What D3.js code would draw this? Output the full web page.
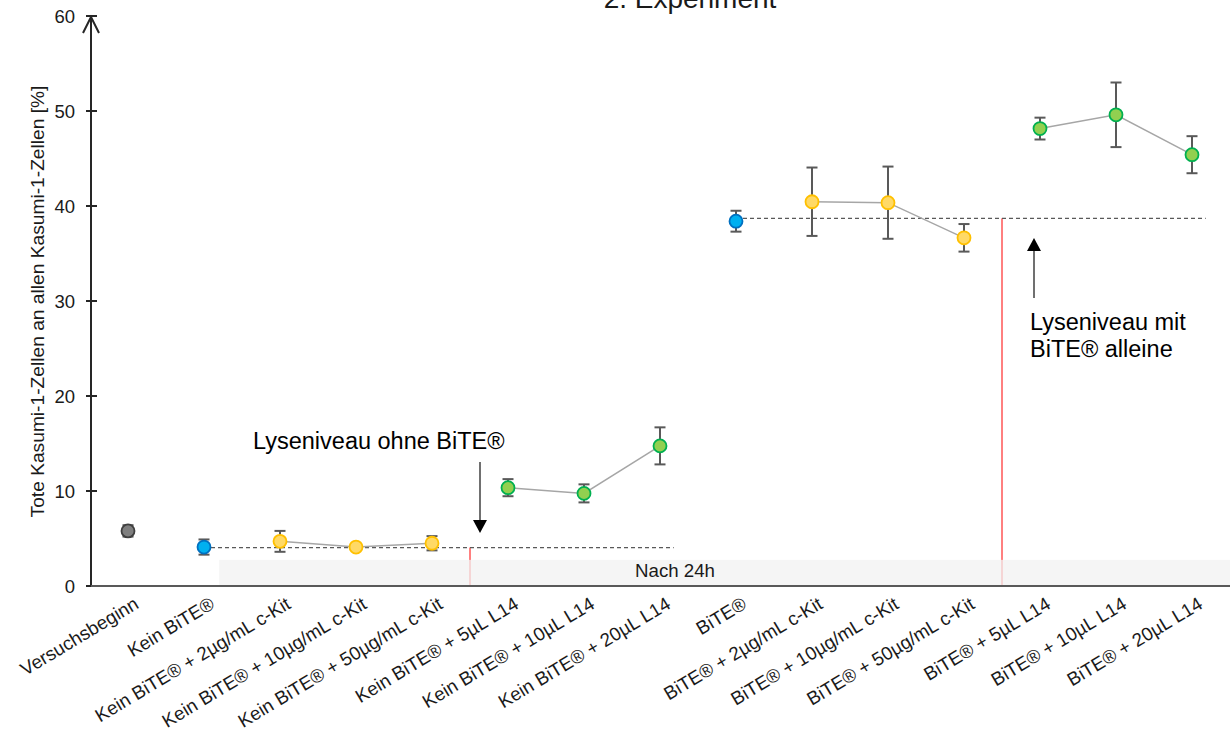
<!DOCTYPE html>
<html>
<head>
<meta charset="utf-8">
<script src="https://cdn.jsdelivr.net/npm/d3@7"></script>
<style>
  body { margin: 0; background: #fff; }
  svg { display: block; font-family: "Liberation Sans", Arial, sans-serif; }
</style>
</head>
<body>
<svg id="chart" width="1232" height="737"></svg>
<script>
// categories in plotting order
const categories = [
  "Versuchsbeginn", "Kein BiTE®",
  "Kein BiTE® + 2µg/mL c-Kit", "Kein BiTE® + 10µg/mL c-Kit", "Kein BiTE® + 50µg/mL c-Kit",
  "Kein BiTE® + 5µL L14", "Kein BiTE® + 10µL L14", "Kein BiTE® + 20µL L14",
  "BiTE®",
  "BiTE® + 2µg/mL c-Kit", "BiTE® + 10µg/mL c-Kit", "BiTE® + 50µg/mL c-Kit",
  "BiTE® + 5µL L14", "BiTE® + 10µL L14", "BiTE® + 20µL L14"
];
// mean dead Kasumi-1 cells [%] and error (+/-)
const values = [5.8, 4.1, 4.7, 4.1, 4.5, 10.35, 9.75, 14.75, 38.4, 40.45, 40.35, 36.65, 48.15, 49.6, 45.4];
const errors = [0.6, 0.8, 1.1, 0.3, 0.75, 0.9, 0.95, 1.95, 1.1, 3.6, 3.8, 1.45, 1.15, 3.4, 1.95];
const kinds = ["start", "control", "ckit", "ckit", "ckit", "l14", "l14", "l14",
               "control", "ckit", "ckit", "ckit", "l14", "l14", "l14"];
// points joined by thin grey lines (indices into categories)
const lineGroups = [[2, 3, 4], [5, 6, 7], [9, 10, 11], [12, 13, 14]];
// lysis reference levels: dashed line starting at category index
const levelFrom = [1, 8];
const levelValue = [4.05, 38.7];
const yTicks = [0, 10, 20, 30, 40, 50, 60];

const COLORS = {
  start:   { fill: "#7f7f7f", stroke: "#3f3f3f" },
  control: { fill: "#00b0f0", stroke: "#0070c0" },
  ckit:    { fill: "#ffd966", stroke: "#ffc000" },
  l14:     { fill: "#92d050", stroke: "#00b050" }
};

const svg = d3.select("#chart");
const x = d3.scalePoint().domain(categories).range([90, 1230]).padding(0.5);
const step = x.step();
const y = d3.scaleLinear().domain([0, 60]).range([586, 16]);
const X = i => x(categories[i]);

// red separators (drawn under the band)
const seps = [[4, 5, 0], [11, 12, 1]];
seps.forEach(([a, b, lv]) => {
  svg.append("line")
    .attr("x1", (X(a) + X(b)) / 2).attr("x2", (X(a) + X(b)) / 2)
    .attr("y1", y(levelValue[lv])).attr("y2", y(0))
    .attr("stroke", "#ff0000").attr("stroke-width", 1);
});

// "Nach 24h" band
svg.append("rect")
  .attr("x", X(1) + step * 0.2).attr("y", y(2.75))
  .attr("width", 1230 - (X(1) + step * 0.2)).attr("height", y(0) - y(2.75))
  .attr("fill", "#f2f2f2").attr("opacity", 0.75);
svg.append("text")
  .attr("x", 675).attr("y", 577)
  .attr("text-anchor", "middle")
  .style("font-size", "18.7px").attr("fill", "#1a1a1a")
  .text("Nach 24h");

// dashed reference levels
levelFrom.forEach((f, i) => {
  svg.append("line")
    .attr("x1", X(f)).attr("x2", X(f) + step * 6.18)
    .attr("y1", y(levelValue[i])).attr("y2", y(levelValue[i]))
    .attr("stroke", "#595959").attr("stroke-width", 1.3)
    .attr("stroke-dasharray", "4,3");
});

// y axis
const yAxis = svg.append("g").attr("transform", "translate(91,0)");
yAxis.append("line").attr("y1", y(0)).attr("y2", y(60))
  .attr("stroke", "#262626").attr("stroke-width", 2);
yAxis.append("path").attr("d", "M-8,33L0,17L8,33")
  .attr("fill", "none").attr("stroke", "#262626").attr("stroke-width", 2);
yTicks.forEach(t => {
  yAxis.append("line").attr("x1", -5).attr("x2", 6)
    .attr("y1", y(t)).attr("y2", y(t))
    .attr("stroke", "#262626").attr("stroke-width", 2);
  yAxis.append("text").attr("x", -16).attr("y", y(t)).attr("dy", "0.36em")
    .attr("text-anchor", "end").style("font-size", "18.5px").attr("fill", "#1a1a1a")
    .text(t);
});
svg.append("text")
  .attr("transform", `translate(44,${(88 + 515) / 2}) rotate(-90)`)
  .attr("text-anchor", "middle")
  .style("font-size", "19.2px").attr("fill", "#1a1a1a")
  .text("Tote Kasumi-1-Zellen an allen Kasumi-1-Zellen [%]");

// x axis
svg.append("line").attr("x1", 91).attr("x2", 1230)
  .attr("y1", y(0)).attr("y2", y(0))
  .attr("stroke", "#595959").attr("stroke-width", 2);
categories.forEach((c, i) => {
  svg.append("text")
    .attr("transform", `translate(${X(i) + 5},596) rotate(-31)`)
    .attr("dy", "0.71em")
    .attr("text-anchor", "end")
    .style("font-size", "18.8px").attr("fill", "#1a1a1a")
    .text(c);
});

// title (cut off at the top edge, as in the source figure)
svg.append("text").attr("x", 690).attr("y", 8)
  .attr("text-anchor", "middle").style("font-size", "28px").attr("fill", "#1a1a1a")
  .text("2. Experiment");

// connecting lines
const line = d3.line().x(i => X(i)).y(i => y(values[i]));
lineGroups.forEach(g => {
  svg.append("path").attr("d", line(g))
    .attr("fill", "none").attr("stroke", "#a6a6a6").attr("stroke-width", 1.5);
});

// error bars
const eb = svg.append("g").attr("stroke", "#595959").attr("stroke-width", 2);
values.forEach((v, i) => {
  const lo = y(v - errors[i]), hi = y(v + errors[i]);
  eb.append("line").attr("x1", X(i)).attr("x2", X(i)).attr("y1", lo).attr("y2", hi);
  eb.append("line").attr("x1", X(i) - 5.5).attr("x2", X(i) + 5.5).attr("y1", lo).attr("y2", lo);
  eb.append("line").attr("x1", X(i) - 5.5).attr("x2", X(i) + 5.5).attr("y1", hi).attr("y2", hi);
});

// points
svg.append("g").selectAll("circle").data(values).join("circle")
  .attr("cx", (d, i) => X(i)).attr("cy", d => y(d)).attr("r", 6.5)
  .attr("fill", (d, i) => COLORS[kinds[i]].fill)
  .attr("stroke", (d, i) => COLORS[kinds[i]].stroke)
  .attr("stroke-width", 1.8);

// annotations
function arrow(xp, yFrom, yTip) {
  const dir = yTip > yFrom ? 1 : -1;
  svg.append("line").attr("x1", xp).attr("x2", xp)
    .attr("y1", yFrom).attr("y2", yTip - dir * 13)
    .attr("stroke", "#404040").attr("stroke-width", 1.5);
  svg.append("path")
    .attr("d", `M${xp - 7},${yTip - dir * 13}L${xp + 7},${yTip - dir * 13}L${xp},${yTip}Z`)
    .attr("fill", "#000");
}
arrow(480, 462, 533);
arrow(1034, 298, 238);

svg.append("text").attr("x", 253).attr("y", 449)
  .style("font-size", "23.5px").attr("fill", "#000")
  .text("Lyseniveau ohne BiTE®");
const t2 = svg.append("text").style("font-size", "23.5px").attr("fill", "#000");
t2.append("tspan").attr("x", 1030).attr("y", 330).text("Lyseniveau mit");
t2.append("tspan").attr("x", 1030).attr("y", 357).text("BiTE® alleine");
</script>
</body>
</html>
